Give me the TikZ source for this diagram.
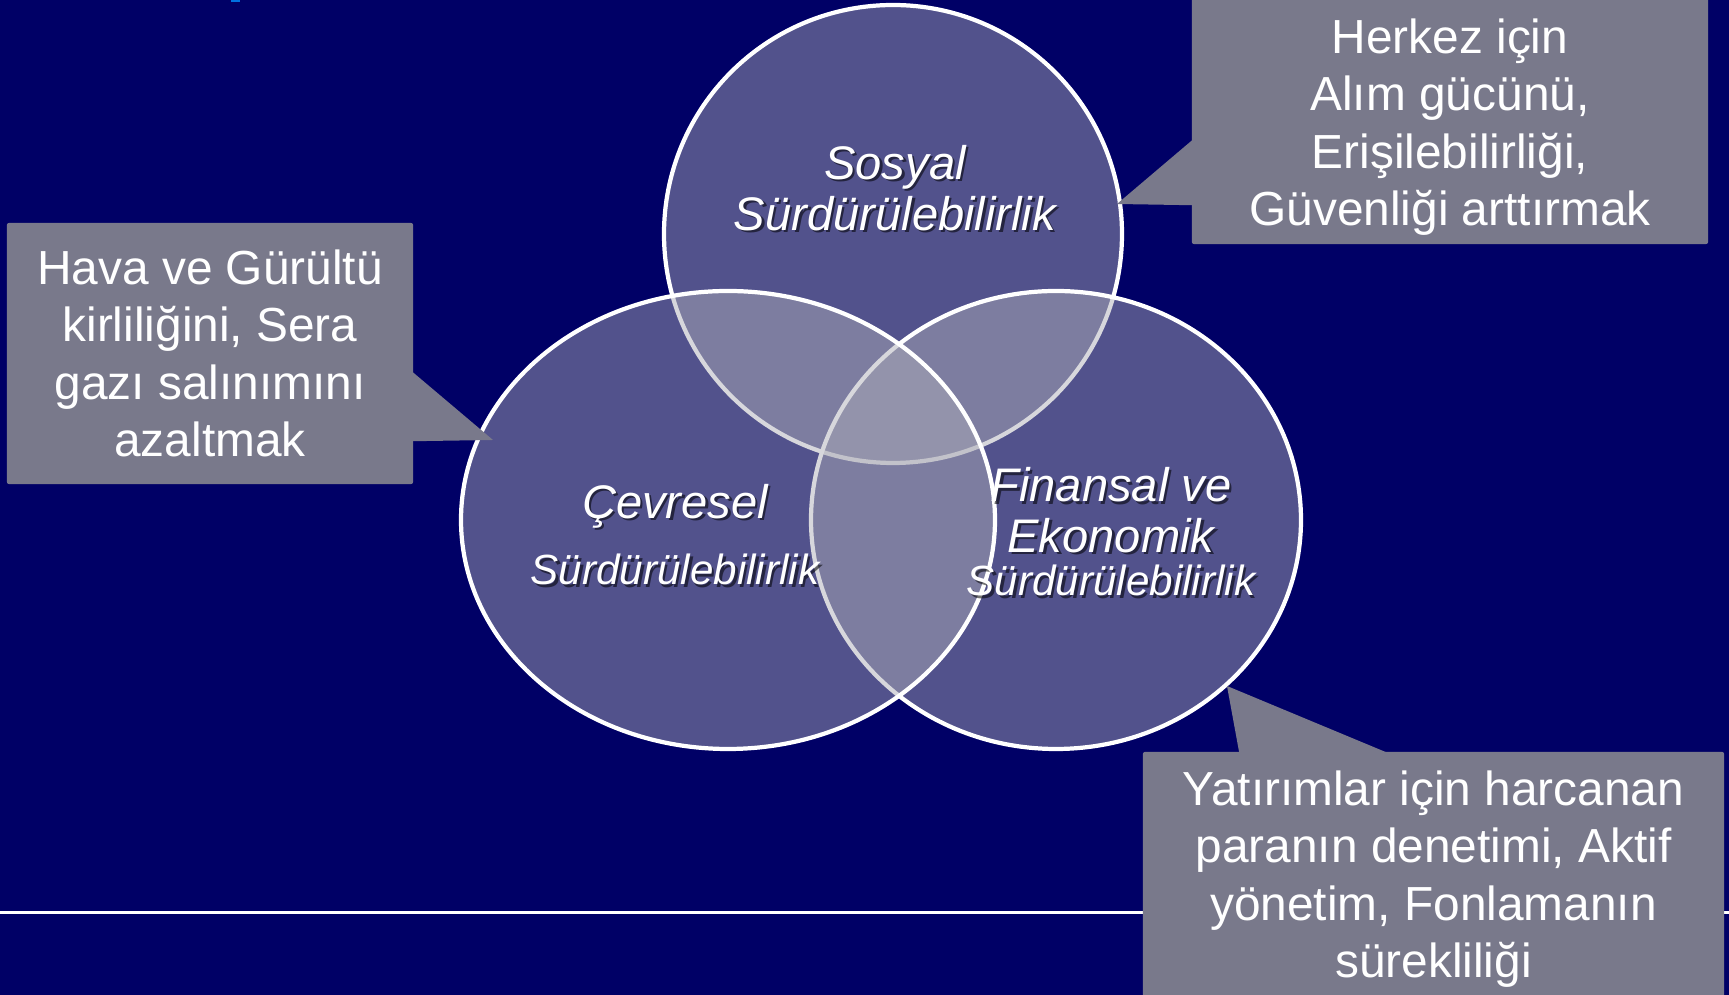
\documentclass[tikz,border=0pt]{standalone}
\usepackage{fontspec}
\setmainfont{Liberation Sans}
\usetikzlibrary{calc}
\definecolor{slidebg}{RGB}{0,0,102}
\definecolor{vennfill}{RGB}{172,172,183}
\definecolor{calloutgrey}{RGB}{121,121,139}
\definecolor{titleblue}{RGB}{0,112,224}
\tikzset{
  venn/.style={fill=vennfill, fill opacity=0.48, draw=white, line width=1.2pt},
  callout text/.style={inner sep=0pt, text=white, align=center,
    font=\fontsize{13.6}{16.3}\selectfont},
  callout box/.style={callout text, fill=calloutgrey, rounded corners=0.6pt},
  callout tip/.style={fill=calloutgrey},
  venn label/.style={text=white, align=center, inner sep=0pt,
    font=\itshape\fontsize{13.4}{14.4}\selectfont},
  venn shadow/.style={venn label, text=black, text opacity=0.55},
}

\begin{document}
\begin{tikzpicture}[x=0.01cm, y=-0.01cm]
    % slide background
    \useasboundingbox (0,0) rectangle (1729,995);
    \fill[slidebg] (0,0) rectangle (1729,995);
    \fill[titleblue] (231,0) rectangle (240,2.5);
    % rule under the diagram
    \coordinate (rule_left) at (0,913);
    \coordinate (rule_right) at (1729,913);
    \draw[white, line width=0.85pt] (rule_left) -- (rule_right);
    % define circle centres
    \coordinate (sosyal_c) at (893,234);
    \coordinate (cevre_c) at (728,520);
    \coordinate (finans_c) at (1056,520);
    % draw venn (top, right, left)
    \draw[venn] (sosyal_c) ellipse [x radius=229, y radius=229];
    \draw[venn] (finans_c) ellipse [x radius=245, y radius=229];
    \draw[venn] (cevre_c) ellipse [x radius=267, y radius=229];
    % venn labels
    \node[venn shadow] (sosyal_s) at (897.5,190.5) {Sosyal\\Sürdürülebilirlik};
    \node[venn label] (sosyal) at (895,188) {Sosyal\\Sürdürülebilirlik};
    \node[venn shadow] (cevre_s) at (677.5,537)
        {Çevresel\\[4.5pt]\fontsize{12}{14}\selectfont Sürdürülebilirlik};
    \node[venn label] (cevre) at (675,534.5)
        {Çevresel\\[4.5pt]\fontsize{12}{14}\selectfont Sürdürülebilirlik};
    \node[venn shadow] (finans_s) at (1113.5,534.5)
        {Finansal ve\\Ekonomik\\[-2pt]\fontsize{12}{14}\selectfont Sürdürülebilirlik};
    \node[venn label] (finans) at (1111,532)
        {Finansal ve\\Ekonomik\\[-2pt]\fontsize{12}{14}\selectfont Sürdürülebilirlik};
    % callouts
    \node[callout box, minimum width=4.06cm, minimum height=2.61cm] (kirlilik) at (210,353.5)
        {Hava ve Gürültü\\kirliliğini, Sera\\gazı salınımını\\azaltmak};
    \coordinate (kirlilik_tip) at (493,440);
    \fill[callout tip] ($(kirlilik.north east)+(-1,150)$) -- (kirlilik_tip)
        -- ($(kirlilik.north east)+(-1,219)$) -- cycle;
    \node[callout box, minimum width=5.16cm, minimum height=2.50cm] (erisim) at (1450,119) {};
    \node[callout text] (erisim_text) at ($(erisim.center)+(0,8)$)
        {Herkez için\\Alım gücünü,\\Erişilebilirliği,\\Güvenliği arttırmak};
    \coordinate (erisim_tip) at (1117,204);
    \fill[callout tip] ($(erisim.north west)+(1,147)$) -- (erisim_tip)
        -- ($(erisim.north west)+(1,212)$) -- cycle;
    \node[callout box, minimum width=5.81cm, minimum height=2.54cm] (fonlama) at (1433.5,879)
        {Yatırımlar için harcanan\\paranın denetimi, Aktif\\yönetim, Fonlamanın\\sürekliliği};
    \coordinate (fonlama_tip) at (1227,686);
    \fill[callout tip] ($(fonlama.north west)+(97,1)$) -- (fonlama_tip)
        -- ($(fonlama.north west)+(244,1)$) -- cycle;
\end{tikzpicture}
\end{document}
